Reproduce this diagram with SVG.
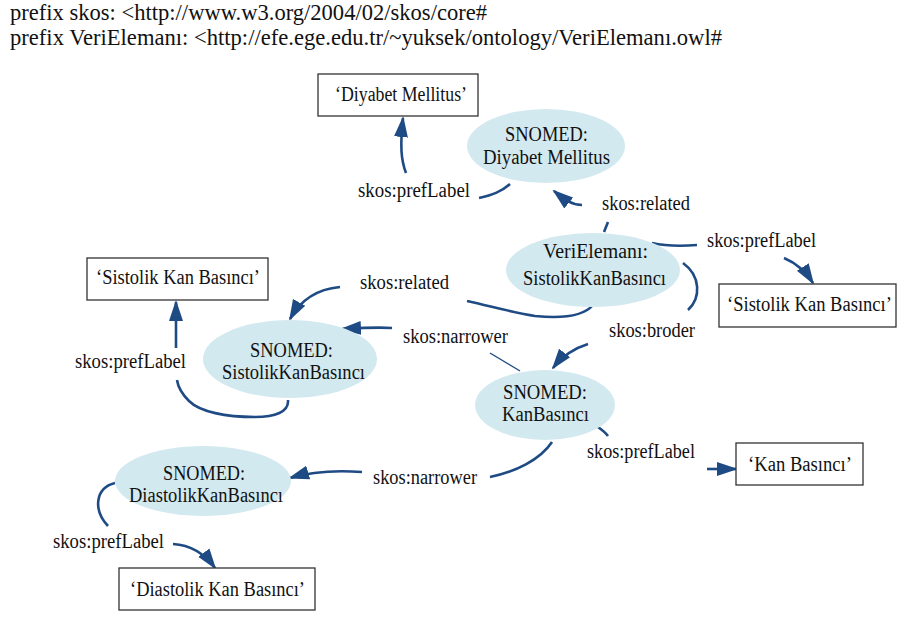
<svg xmlns="http://www.w3.org/2000/svg" width="899" height="617" viewBox="0 0 899 617">
  <defs>
    <marker id="arrow" markerUnits="userSpaceOnUse" markerWidth="22" markerHeight="16" viewBox="0 0 22 16" refX="19" refY="8" orient="auto">
      <path d="M0,1 L21,8 L0,15 z" fill="#1f4b85"/>
    </marker>
    <style>
      text { font-family: "Liberation Serif", "Times New Roman", serif; fill: #111; }
      .hdr { font-size: 23px; }
      .lbl { font-size: 20px; }
      .nt { font-size: 20.5px; }
      .concept { fill: #d3e9f0; stroke: none; }
      .literal { fill: #fff; stroke: #333; stroke-width: 1.3; }
      .edge { fill: none; stroke: #1f4b85; stroke-width: 2.6; }
      .edge.thin { stroke-width: 1.4; }
      .arr { marker-end: url(#arrow); }
    </style>
  </defs>
  <rect width="899" height="617" fill="#fff"/>

  <!-- namespace prefixes -->
  <g id="prefixes">
    <text class="hdr" x="10" y="20" textLength="477" lengthAdjust="spacingAndGlyphs">prefix skos: &lt;http://www.w3.org/2004/02/skos/core#</text>
    <text class="hdr" x="10" y="45" textLength="712" lengthAdjust="spacingAndGlyphs">prefix VeriElemanı: &lt;http://efe.ege.edu.tr/~yuksek/ontology/VeriElemanı.owl#</text>
  </g>

  <!-- connectors -->
  <g id="connectors">
    <path class="edge" d="M510,184 C501,192 492,195 479,198"/>
    <path class="edge arr" d="M406,173 C401,160 400,146 403,118"/>

    <path class="edge" d="M604,232 L608,222"/>
    <path class="edge arr" d="M582,205 C572,205 565,200 554,191"/>

    <path class="edge" d="M652,243 C670,247 685,246 697,245"/>
    <path class="edge arr" d="M784,258 C796,263 806,272 813,283"/>

    <path class="edge" d="M683,263 C701,276 701,298 688,310"/>
    <path class="edge arr" d="M588,344 C575,348 563,355 553,368"/>

    <path class="edge" d="M593,305 C582,318 555,318 535,316 C515,313 490,306 467,301"/>
    <path class="edge arr" d="M340,287 C318,289 301,299 290,319"/>

    <path class="edge thin" d="M520,371 L490,353"/>
    <path class="edge arr" d="M392,328 C376,327 360,328 342,329"/>

    <path class="edge" d="M288,400 C289,412 275,417 255,417 C226,417 200,412 189,401 C182,394 178,387 177,380"/>
    <path class="edge arr" d="M176,348 L176,302"/>

    <path class="edge" d="M598,427 C602,430 605,432 608,436"/>
    <path class="edge arr" d="M707,469 L736,469"/>

    <path class="edge" d="M552,442 C540,460 515,472 490,477"/>
    <path class="edge arr" d="M362,472 C335,470 310,472 290,478"/>

    <path class="edge" d="M115,483 C95,488 93,510 108,526"/>
    <path class="edge arr" d="M173,544 C190,545 204,553 215,568"/>
  </g>

  <!-- edge labels -->
  <g id="edge-labels">
    <text class="lbl" x="358" y="197" textLength="112" lengthAdjust="spacingAndGlyphs">skos:prefLabel</text>
    <text class="lbl" x="602" y="210" textLength="88" lengthAdjust="spacingAndGlyphs">skos:related</text>
    <text class="lbl" x="707" y="247" textLength="109" lengthAdjust="spacingAndGlyphs">skos:prefLabel</text>
    <text class="lbl" x="609" y="337" textLength="86" lengthAdjust="spacingAndGlyphs">skos:broder</text>
    <text class="lbl" x="360" y="289" textLength="89" lengthAdjust="spacingAndGlyphs">skos:related</text>
    <text class="lbl" x="403" y="343" textLength="105" lengthAdjust="spacingAndGlyphs">skos:narrower</text>
    <text class="lbl" x="75" y="368" textLength="111" lengthAdjust="spacingAndGlyphs">skos:prefLabel</text>
    <text class="lbl" x="587" y="458" textLength="108" lengthAdjust="spacingAndGlyphs">skos:prefLabel</text>
    <text class="lbl" x="373" y="484" textLength="104" lengthAdjust="spacingAndGlyphs">skos:narrower</text>
    <text class="lbl" x="53" y="548" textLength="111" lengthAdjust="spacingAndGlyphs">skos:prefLabel</text>
  </g>

  <!-- literal nodes -->
  <g id="lit-diyabet">
    <rect class="literal" x="318" y="74" width="160" height="42"/>
    <text class="nt" x="335" y="101" textLength="132" lengthAdjust="spacingAndGlyphs">‘Diyabet Mellitus’</text>
  </g>
  <g id="lit-sistolik-right">
    <rect class="literal" x="719" y="284" width="177" height="43"/>
    <!-- narrowed horizontally so the label fits the box near the right edge -->
    <text class="nt" transform="translate(727,311) scale(0.905,1)">‘Sistolik Kan Basıncı’</text>
  </g>
  <g id="lit-sistolik-left">
    <rect class="literal" x="87" y="258" width="181" height="42"/>
    <text class="nt" x="96" y="284" textLength="164" lengthAdjust="spacingAndGlyphs">‘Sistolik Kan Basıncı’</text>
  </g>
  <g id="lit-kan">
    <rect class="literal" x="736" y="443" width="127" height="42"/>
    <text class="nt" x="748" y="471" textLength="104" lengthAdjust="spacingAndGlyphs">‘Kan Basıncı’</text>
  </g>
  <g id="lit-diastolik">
    <rect class="literal" x="119" y="568" width="196" height="42"/>
    <text class="nt" x="130" y="596" textLength="175" lengthAdjust="spacingAndGlyphs">‘Diastolik Kan Basıncı’</text>
  </g>

  <!-- concept nodes -->
  <g id="snomed-diyabet">
    <ellipse class="concept" cx="546" cy="146" rx="79" ry="37"/>
    <text class="nt" x="505" y="141" textLength="83" lengthAdjust="spacingAndGlyphs">SNOMED:</text>
    <text class="nt" x="483" y="164" textLength="127" lengthAdjust="spacingAndGlyphs">Diyabet Mellitus</text>
  </g>
  <g id="veri-sistolik">
    <ellipse class="concept" cx="593" cy="270" rx="87" ry="37"/>
    <text class="nt" x="543" y="258" textLength="105" lengthAdjust="spacingAndGlyphs">VeriElemanı:</text>
    <text class="nt" x="523" y="285" textLength="143" lengthAdjust="spacingAndGlyphs">SistolikKanBasıncı</text>
  </g>
  <g id="snomed-sistolik">
    <ellipse class="concept" cx="290" cy="359" rx="87" ry="39"/>
    <text class="nt" x="250" y="357" textLength="83" lengthAdjust="spacingAndGlyphs">SNOMED:</text>
    <text class="nt" x="222" y="379" textLength="143" lengthAdjust="spacingAndGlyphs">SistolikKanBasıncı</text>
  </g>
  <g id="snomed-kan">
    <ellipse class="concept" cx="545" cy="405" rx="70" ry="35"/>
    <text class="nt" x="503" y="399" textLength="84" lengthAdjust="spacingAndGlyphs">SNOMED:</text>
    <text class="nt" x="502" y="421" textLength="87" lengthAdjust="spacingAndGlyphs">KanBasıncı</text>
  </g>
  <g id="snomed-diastolik">
    <ellipse class="concept" cx="203" cy="481" rx="88" ry="35"/>
    <text class="nt" x="163" y="480" textLength="82" lengthAdjust="spacingAndGlyphs">SNOMED:</text>
    <text class="nt" x="129" y="502" textLength="154" lengthAdjust="spacingAndGlyphs">DiastolikKanBasıncı</text>
  </g>
</svg>
